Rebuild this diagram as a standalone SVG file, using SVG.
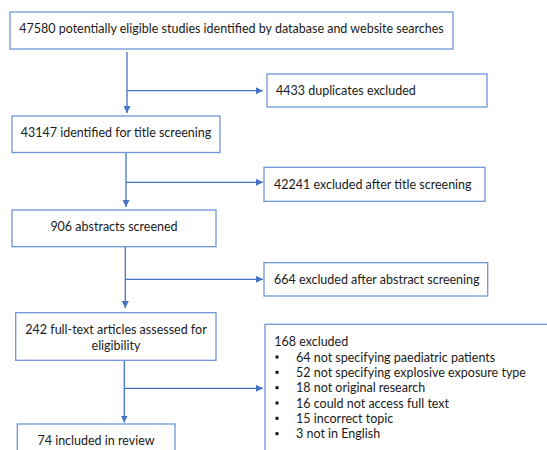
<svg xmlns="http://www.w3.org/2000/svg" width="547" height="450" viewBox="0 0 547 450">
<defs>
<style>
.box{fill:#ffffff;stroke:#6f95d9;stroke-width:1.3}
.ln{fill:none;stroke:#4472c4;stroke-width:1.3}
text{font-family:Lato,"Liberation Sans",Arial,sans-serif;font-size:12.5px;fill:#1a1a1a;dominant-baseline:central}
.c{text-anchor:middle}
</style>
<marker id="ah" viewBox="0 0 10 10" refX="10" refY="5" markerWidth="7" markerHeight="7" markerUnits="userSpaceOnUse" orient="auto">
<path d="M0,0 L10,5 L0,10 z" fill="#4472c4"/>
</marker>
</defs>
<rect width="547" height="450" fill="#ffffff"/>
<g id="connectors">
<path class="ln" d="M127,52 V113" marker-end="url(#ah)"/>
<path class="ln" d="M127,90.7 H263" marker-end="url(#ah)"/>
<path class="ln" d="M126,153 V207" marker-end="url(#ah)"/>
<path class="ln" d="M126,182.3 H263" marker-end="url(#ah)"/>
<path class="ln" d="M125.3,247 V308" marker-end="url(#ah)"/>
<path class="ln" d="M125.3,279.3 H263" marker-end="url(#ah)"/>
<path class="ln" d="M124.3,360.5 V422.5" marker-end="url(#ah)"/>
<path class="ln" d="M124.3,388.3 H263" marker-end="url(#ah)"/>
</g>
<g id="n1">
<rect class="box" x="10" y="12" width="443" height="37"/>
<text x="231.5" y="28.5" class="c">47580 potentially eligible studies identified by database and website searches</text>
</g>
<g id="n2">
<rect class="box" x="267" y="74" width="220" height="33"/>
<text x="276" y="90.7">4433 duplicates excluded</text>
</g>
<g id="n3">
<rect class="box" x="12" y="116" width="208" height="36.5"/>
<text x="116" y="132.7" class="c">43147 identified for title screening</text>
</g>
<g id="n4">
<rect class="box" x="264" y="167.3" width="221" height="34"/>
<text x="274" y="184.3">42241 excluded after title screening</text>
</g>
<g id="n5">
<rect class="box" x="12" y="210" width="204" height="36.7"/>
<text x="114" y="226.7" class="c">906 abstracts screened</text>
</g>
<g id="n6">
<rect class="box" x="264" y="262.7" width="223.7" height="33.3"/>
<text x="274" y="279.3">664 excluded after abstract screening</text>
</g>
<g id="n7">
<rect class="box" x="15.7" y="312.7" width="200.3" height="47.6"/>
<text x="116" y="329.3" class="c">242 full-text articles assessed for</text>
<text x="116" y="345" class="c">eligibility</text>
</g>
<g id="n8">
<rect class="box" x="17.3" y="424" width="157.7" height="40"/>
<text x="96" y="440.7" class="c">74 included in review</text>
</g>
<g id="n9">
<rect class="box" x="265" y="324.3" width="300" height="140"/>
<text x="274.3" y="341.7">168 excluded</text>
<g fill="#111111">
<rect x="275.5" y="355.5" width="3" height="3"/>
<rect x="275.5" y="370.8" width="3" height="3"/>
<rect x="275.5" y="386.2" width="3" height="3"/>
<rect x="275.5" y="401.5" width="3" height="3"/>
<rect x="275.5" y="416.8" width="3" height="3"/>
<rect x="275.5" y="432.2" width="3" height="3"/>
</g>
<text x="296" y="357">64 not specifying paediatric patients</text>
<text x="296" y="372.3">52 not specifying explosive exposure type</text>
<text x="296" y="387.7">18 not original research</text>
<text x="296" y="403">16 could not access full text</text>
<text x="296" y="418.3">15 incorrect topic</text>
<text x="296" y="433.7">3 not in English</text>
</g>
</svg>
